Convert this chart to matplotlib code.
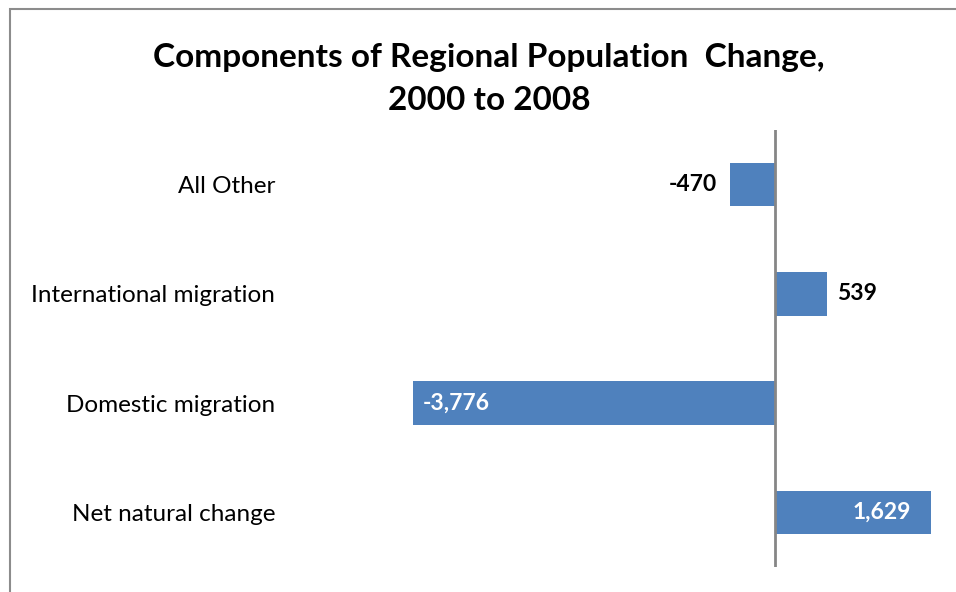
import matplotlib.pyplot as plt
from matplotlib.patches import Rectangle

categories = ['Net natural change', 'Domestic migration', 'International migration', 'All Other']
values = [1629, -3776, 539, -470]
labels = ['1,629', '-3,776', '539', '-470']

plt.rcParams['font.family'] = ['Lato', 'DejaVu Sans']

fig = plt.figure(figsize=(9.56, 5.92), dpi=100)
W, H = 956, 592

# chart frame (only top and left edges fall inside the image)
fig.patches.append(Rectangle((10 / W, -0.1), 2, 1.1 - 8.5 / H, transform=fig.transFigure,
                             fill=False, edgecolor='#8c8c8c', linewidth=1.5))

ax = fig.add_axes([300 / W, (H - 567) / H, 640 / W, 437 / H])
ypos = range(len(categories))
ax.barh(ypos, values, height=0.4, color='#4f81bd')
ax.set_xlim(-4955, 1718)
ax.set_ylim(-0.5, 3.5)
ax.axvline(0, color='#868686', linewidth=2)

for s in ax.spines.values():
    s.set_visible(False)
ax.set_xticks([])
ax.set_yticks(list(ypos))
ax.set_yticklabels(categories, fontsize=17.5)
ax.tick_params(axis='y', length=0, pad=18)

# value labels: two inside the bars (white), two outside (black)
vfs = 16.5
ax.text(values[0] - 210, 0, labels[0], ha='right', va='center', color='white',
        fontsize=vfs, fontweight='bold')
ax.text(values[1] + 100, 1, labels[1], ha='left', va='center', color='white',
        fontsize=vfs, fontweight='bold')
ax.text(values[2] + 110, 2, labels[2], ha='left', va='center', color='black',
        fontsize=vfs, fontweight='bold')
ax.text(values[3] - 140, 3, labels[3], ha='right', va='center', color='black',
        fontsize=vfs, fontweight='bold')

fig.text(489 / W, 1 - 79 / H, 'Components of Regional Population  Change,\n2000 to 2008',
         ha='center', va='center', fontsize=24, fontweight='bold', linespacing=1.55)

fig.savefig('out.png', dpi=100)
